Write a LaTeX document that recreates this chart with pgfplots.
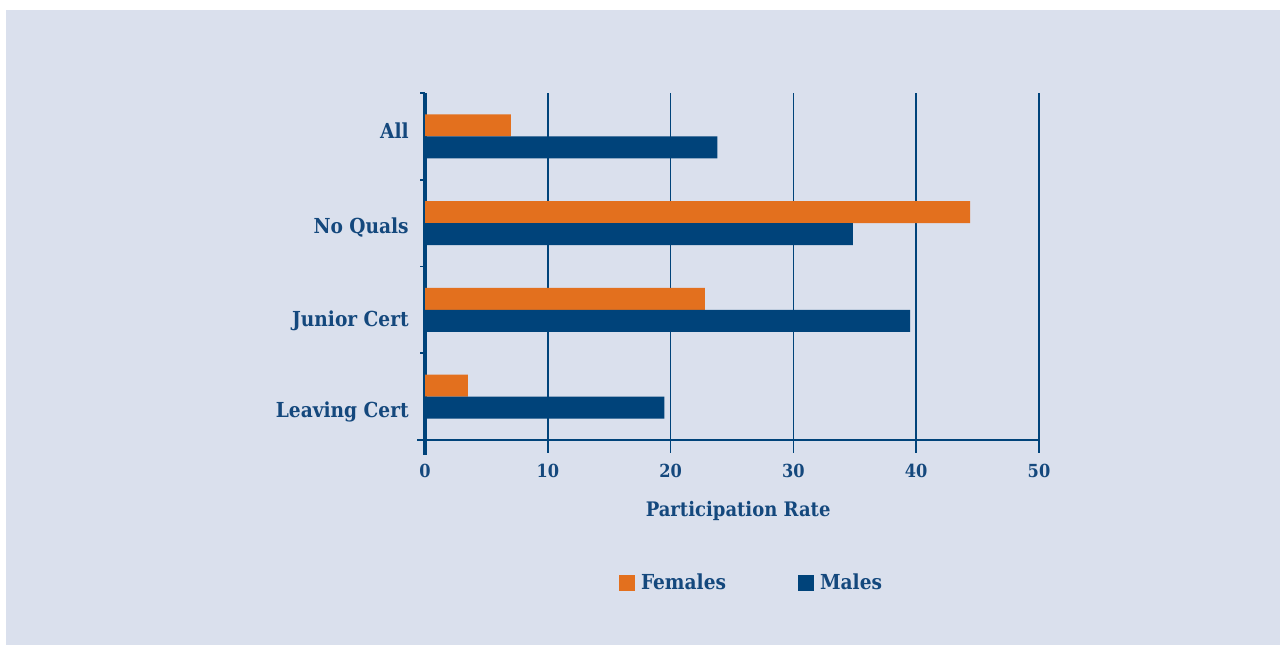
\documentclass[border=0pt]{standalone}
\usepackage{pgfplots}
\pgfplotsset{compat=1.18}
\usepackage{fontspec}
\setmainfont{DejaVu Serif Condensed}
\definecolor{bg}{RGB}{218,224,237}
\definecolor{fem}{RGB}{227,112,30}
\definecolor{mal}{RGB}{0,67,122}
\definecolor{txt}{RGB}{20,72,125}
\begin{document}
\begin{tikzpicture}[x=0.75pt,y=0.75pt]
\fill[white] (0,0) rectangle (1282,646);
\fill[bg] (6,1) rectangle (1280,636);
\begin{axis}[
  at={(318.75pt,154.5pt)}, anchor=south west,
  scale only axis, width=460.5pt, height=260.25pt,
  clip=false,
  xmin=0, xmax=50, ymin=-0.5, ymax=3.5,
  axis x line=bottom, axis y line=left,
  x axis line style={-, mal, line width=1.5pt, shorten <=-6pt},
  y axis line style={-, mal, line width=2.5pt, shorten <=-11pt},
  tick align=outside,
  xtick align=outside,
  major tick length=9.75pt,
  xtick={0,10,20,30,40,50},
  xtick pos=bottom,
  xtick style={mal, line width=1.25pt},
  ytick={-0.5,0.5,1.5,2.5,3.5},
  yticklabels={},
  ytick style={mal, line width=1.25pt, /pgfplots/major tick length=3.75pt},
  extra y ticks={2.981,1.886,0.814,-0.246},
  extra y tick labels={All, No Quals, Junior Cert, Leaving Cert},
  extra y tick style={major tick length=0pt, ytick style={draw=none}, yticklabel style={anchor=base east, inner sep=0pt, xshift=-12pt}},
  xmajorgrids,
  major grid style={mal, line width=1.25pt},
  /pgf/number format/assume math mode=true,
  xticklabel style={font=\fontsize{13.5}{16}\selectfont\bfseries, text=txt, yshift=-4.5pt},
  yticklabel style={font=\fontsize{15.5}{18}\selectfont\bfseries, text=txt},
  xlabel={Participation Rate},
  xlabel style={at={(axis description cs:0.51,-0.205)}, anchor=center, font=\fontsize{15}{18}\selectfont\bfseries, text=txt},
  legend columns=2,
  legend style={at={(axis description cs:0.5324,-0.412)}, anchor=center, draw=none, fill=none,
    font=\fontsize{15.5}{18}\selectfont\bfseries, text=txt,
    /tikz/every even column/.append style={column sep=52pt}},
]
\addplot[xbar, fill=fem, draw=none, bar width=16.5pt, bar shift=8.25pt,
  legend image code/.code={\fill[fem] (0pt,-6pt) rectangle (12pt,6pt); \path (14.5pt,0pt);}]
  coordinates {(7.0,3) (44.4,2) (22.8,1) (3.5,0)};
\addplot[xbar, fill=mal, draw=none, bar width=16.5pt, bar shift=-8.25pt,
  legend image code/.code={\fill[mal] (0pt,-6pt) rectangle (12pt,6pt); \path (14.5pt,0pt);}]
  coordinates {(23.8,3) (34.85,2) (39.5,1) (19.5,0)};
\legend{Females, Males}
\end{axis}
\end{tikzpicture}
\end{document}
